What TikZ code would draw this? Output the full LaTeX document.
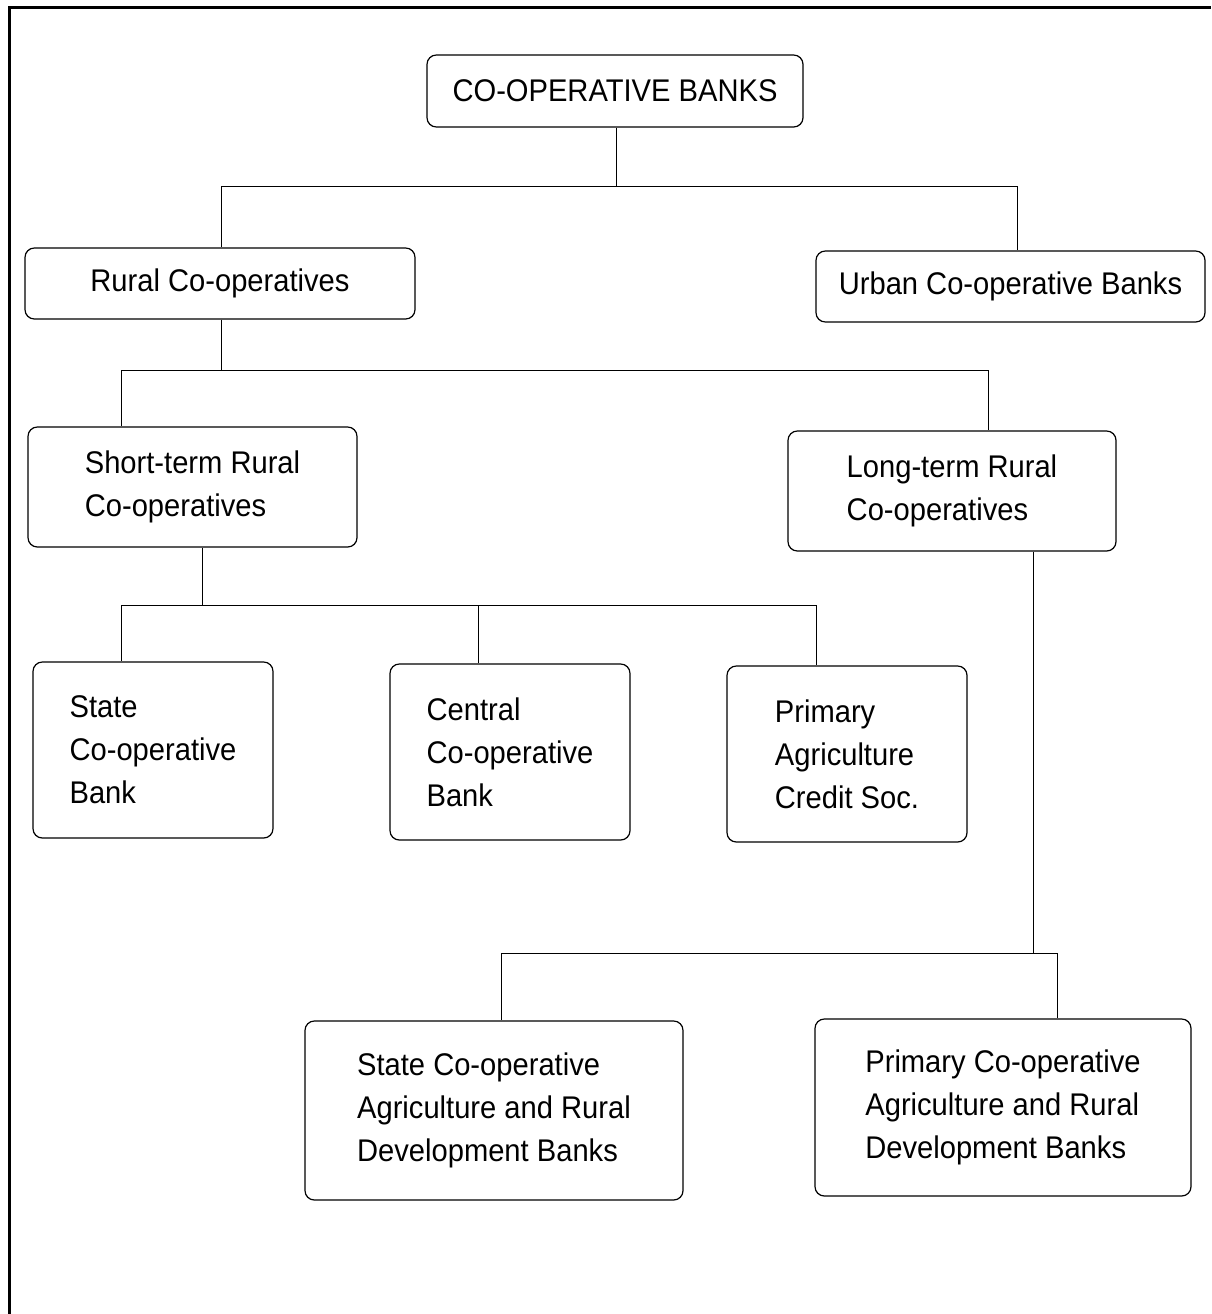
\documentclass[tikz,border=0pt]{standalone}
\usepackage{fontspec}
\setmainfont{Liberation Sans}[FakeStretch=0.93]
\begin{document}
\begin{tikzpicture}[x=0.75pt,y=-0.75pt,
  box/.style={draw, line width=0.9pt, rounded corners=7pt, align=left, inner sep=0pt,
    font=\fontsize{23.5}{32.25}\selectfont},
  link/.style={line width=0.75pt},
  frame/.style={line width=2.25pt}]
\useasboundingbox (0,0) rectangle (1211,1314);
\draw[frame] (9,1314) -- (9,7) -- (1211,7);

\node[box, minimum width=282pt, minimum height=54pt] (top) at (615,91) {CO-OPERATIVE BANKS};
\node[box, minimum width=292.5pt, minimum height=53.25pt] (rural) at (220,283.5) {Rural Co-operatives};
\node[box, minimum width=291.75pt, minimum height=53.25pt] (urban) at (1010.5,286.5) {Urban Co-operative Banks};
\node[box, minimum width=246.75pt, minimum height=90pt] (short) at (192.5,487) {Short-term Rural\\Co-operatives};
\node[box, minimum width=246pt, minimum height=90pt] (long) at (952,491) {Long-term Rural\\Co-operatives};
\node[box, minimum width=180pt, minimum height=132pt] (state) at (153,750) {State\\Co-operative\\Bank};
\node[box, minimum width=180pt, minimum height=132pt] (central) at (510,752) {Central\\Co-operative\\Bank};
\node[box, minimum width=180pt, minimum height=132pt] (primary) at (847,754) {Primary\\Agriculture\\Credit Soc.};
\node[box, minimum width=283.5pt, minimum height=134.25pt] (sagri) at (494,1110.5) {State Co-operative\\Agriculture and Rural\\Development Banks};
\node[box, minimum width=282pt, minimum height=132.75pt] (pagri) at (1003,1107.5) {Primary Co-operative\\Agriculture and Rural\\Development Banks};

% level 1
\coordinate (b1l) at (221,186);
\coordinate (b1r) at (1017,186);
\coordinate (b1m) at (616,186);
\draw[link] (b1l) -- (b1r);
\draw[link] (b1m |- top.south) -- (b1m);
\draw[link] (b1l) -- (b1l |- rural.north);
\draw[link] (b1r) -- (b1r |- urban.north);

% level 2
\coordinate (b2l) at (121,370);
\coordinate (b2r) at (988,370);
\coordinate (b2m) at (221,370);
\draw[link] (b2l) -- (b2r);
\draw[link] (b2m |- rural.south) -- (b2m);
\draw[link] (b2l) -- (b2l |- short.north);
\draw[link] (b2r) -- (b2r |- long.north);

% level 3
\coordinate (b3l) at (121,605);
\coordinate (b3c) at (478,605);
\coordinate (b3r) at (816,605);
\coordinate (b3m) at (202,605);
\draw[link] (b3l) -- (b3r);
\draw[link] (b3m |- short.south) -- (b3m);
\draw[link] (b3l) -- (b3l |- state.north);
\draw[link] (b3c) -- (b3c |- central.north);
\draw[link] (b3r) -- (b3r |- primary.north);

% level 4
\coordinate (b4l) at (501,953);
\coordinate (b4r) at (1057,953);
\coordinate (b4m) at (1033,953);
\draw[link] (b4l) -- (b4r);
\draw[link] (b4m |- long.south) -- (b4m);
\draw[link] (b4l) -- (b4l |- sagri.north);
\draw[link] (b4r) -- (b4r |- pagri.north);
\end{tikzpicture}
\end{document}
